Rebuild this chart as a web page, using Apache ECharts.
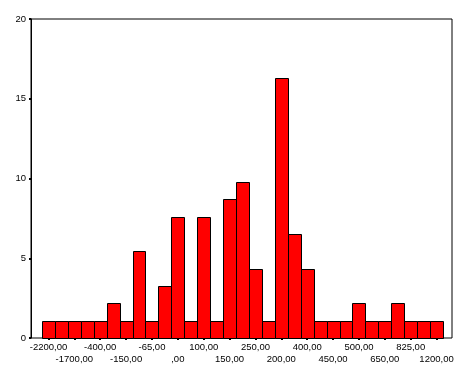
<!DOCTYPE html>
<html>
<head>
<meta charset="utf-8">
<script src="https://cdn.jsdelivr.net/npm/echarts@6/dist/echarts.min.js"></script>
<style>html,body{margin:0;padding:0;background:#fff}#c{width:472px;height:377px}</style>
</head>
<body>
<div id="c"></div>
<script>
// Category tick labels (unlabelled categories left blank)
var tickLabels = ['-2200,00','', '-1700,00','', '-400,00','', '-150,00','', '-65,00','', ',00','', '100,00','', '150,00','', '250,00','', '200,00','', '400,00','', '450,00','', '500,00','', '650,00','', '825,00','', '1200,00'];
// Percent values per category
var percents = [1.09,1.09,1.09,1.09,1.09,2.17,1.09,5.43,1.09,3.26,7.61,1.09,7.61,1.09,8.70,9.78,4.35,1.09,16.30,6.52,4.35,1.09,1.09,1.09,2.17,1.09,1.09,2.17,1.09,1.09,1.09];
var yTicks = [0, 5, 10, 15, 20];

var font = 'Liberation Sans';
var catData = tickLabels.map(function (t, i) { return String(i); });
var barGrid = {left: 42, right: 29, top: 19, bottom: 39, containLabel: false};

function labelAxis(gridIndex, rowStart, margin, showTicks) {
  return {
    type: 'category', gridIndex: gridIndex, data: catData, boundaryGap: true,
    axisLine: {show: false},
    axisTick: {show: showTicks, alignWithLabel: true, interval: function (i) { return i % 2 === 0; }, length: 2, lineStyle: {color: '#000', width: 2}},
    axisLabel: {
      interval: function (i) { return i % 4 === rowStart; },
      hideOverlap: false,
      margin: margin, color: '#000', fontFamily: font, fontSize: 9.5,
      formatter: function (v, idx) { return tickLabels[idx]; }
    },
    splitLine: {show: false}
  };
}

var chart = echarts.init(document.getElementById('c'), null, {renderer: 'canvas'});
chart.setOption({
  animation: false,
  backgroundColor: '#fff',
  grid: [
    barGrid,
    {left: 31, right: 20, top: 19, bottom: 39, containLabel: false, show: true, borderColor: '#000', borderWidth: 1, backgroundColor: 'transparent'},
    barGrid
  ],
  xAxis: [
    labelAxis(0, 0, 4, true),
    {type: 'value', gridIndex: 1, min: 0, max: 1, show: false},
    labelAxis(2, 2, 16, false)
  ],
  yAxis: [
    {type: 'value', gridIndex: 0, min: yTicks[0], max: yTicks[yTicks.length - 1], interval: 5, show: false},
    {
      type: 'value', gridIndex: 1, min: yTicks[0], max: yTicks[yTicks.length - 1], interval: 5,
      axisLine: {show: true, lineStyle: {color: '#000', width: 1}},
      axisTick: {show: true, length: 2, lineStyle: {color: '#000', width: 2}},
      axisLabel: {color: '#000', fontFamily: font, fontSize: 9.5, margin: 5},
      splitLine: {show: false}
    },
    {type: 'value', gridIndex: 2, min: 0, max: 20, show: false}
  ],
  series: [{
    type: 'custom', xAxisIndex: 0, yAxisIndex: 0,
    data: percents.map(function (v, i) { return [i, v]; }),
    renderItem: function (params, api) {
      var base = api.coord([api.value(0), 0]);
      var top = api.coord([api.value(0), api.value(1)]);
      var w = api.size([1, 0])[0];
      var x0 = Math.round(base[0] - w / 2) + 0.5;
      var x1 = Math.round(base[0] + w / 2) + 0.5;
      var y0 = Math.round(top[1]) + 0.5;
      var y1 = Math.round(base[1]) + 0.5;
      return {
        type: 'rect',
        shape: {x: x0, y: y0, width: x1 - x0, height: y1 - y0},
        style: {fill: '#ff0000', stroke: '#000', lineWidth: 1}
      };
    }
  }]
});
</script>
</body>
</html>
